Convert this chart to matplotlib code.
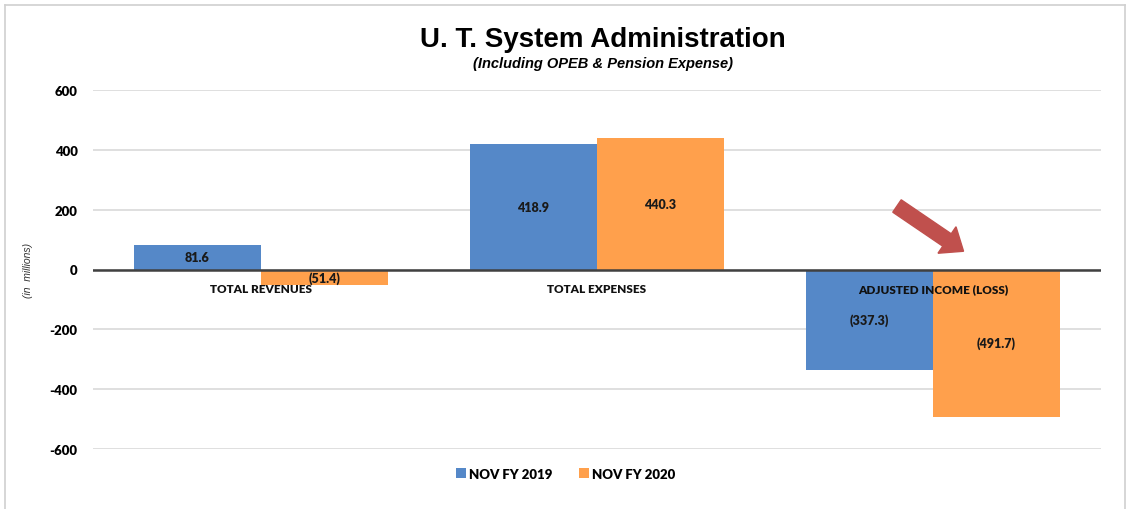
import matplotlib.pyplot as plt
import numpy as np
from matplotlib.patches import FancyArrow
from matplotlib.lines import Line2D
from matplotlib.transforms import IdentityTransform

categories = ['TOTAL REVENUES', 'TOTAL EXPENSES', 'ADJUSTED INCOME (LOSS)']
fy2019 = [81.6, 418.9, -337.3]
fy2020 = [-51.4, 440.3, -491.7]
series_names = ['NOV FY 2019', 'NOV FY 2020']
yticks = [600, 400, 200, 0, -200, -400, -600]

blue = '#5588C8'
orange = '#FFA04C'

def fmt(v):
    return '(%.1f)' % abs(v) if v < 0 else '%.1f' % v

fig = plt.figure(figsize=(11.31, 5.1), dpi=100)
ax = fig.add_axes([93/1131, 1 - 450/510, 1008/1131, 359/510])

x = np.arange(len(categories))
w = 0.378
b1 = ax.bar(x - w/2, fy2019, w, color=blue, label=series_names[0], zorder=2)
b2 = ax.bar(x + w/2, fy2020, w, color=orange, label=series_names[1], zorder=2)

ax.set_xlim(-0.5, 2.5)
ax.set_ylim(-600, 600)
ax.set_yticks(yticks)
ax.set_yticklabels([str(t) for t in yticks], fontsize=9.5, fontweight='heavy', family='Lato')
ax.tick_params(axis='y', length=0, pad=11)
ax.set_xticks([])
ax.grid(axis='y', color='#D9D9D9', linewidth=1.2, zorder=0)
ax.axhline(0, color='#404040', linewidth=1.8, zorder=3)
for s in ax.spines.values():
    s.set_visible(False)

for bars, vals in ((b1, fy2019), (b2, fy2020)):
    for r, v in zip(bars, vals):
        ax.text(r.get_x() + r.get_width()/2, v/2, fmt(v), ha='center', va='center',
                fontsize=9, fontweight='heavy', family='Lato', color='#1a1a1a', zorder=5)

for i, c in enumerate(categories):
    ax.annotate(c, xy=(i, 0), xytext=(0, -14), textcoords='offset points',
                ha='center', va='center', fontsize=8.5, fontweight='heavy',
                family='Lato', color='#111111', zorder=6)

fig.text(28/1131, 1 - 270/510, '(in  millions)', rotation=90, ha='center', va='center',
         fontsize=7.5, style='italic', family='Liberation Sans', color='#333333')

fig.text(0.533, 1 - 40/510, 'U. T. System Administration', ha='center', va='center',
         fontsize=20, fontweight='bold', family='Liberation Sans')
fig.text(0.533, 1 - 64/510, '(Including OPEB & Pension Expense)', ha='center', va='center',
         fontsize=10.5, fontweight='bold', style='italic', family='Liberation Sans')

ax.legend(loc='center', bbox_to_anchor=(0.5, 1 - 475/510), bbox_transform=fig.transFigure,
          ncol=2, frameon=False, handlelength=0.8, handleheight=0.8, handletextpad=0.2,
          columnspacing=2.0, prop={'family': 'Lato', 'weight': 'heavy', 'size': 9.5})

# red call-out arrow (pixel coordinates, origin bottom-left)
H = 510
fig.patches.append(FancyArrow(897, H - 207, 50, -34, width=15, head_width=32,
                              head_length=20, length_includes_head=False,
                              color='#C0504D', transform=IdentityTransform(), figure=fig))

# light border around the chart area
for xs, ys in (([5, 5], [0, 504]), ([5, 1125], [504, 504]), ([1125, 1125], [0, 504])):
    fig.lines.append(Line2D(xs, ys, color='#D0D0D0', linewidth=1.2,
                            transform=IdentityTransform(), figure=fig))

fig.savefig('out.png', dpi=100)
